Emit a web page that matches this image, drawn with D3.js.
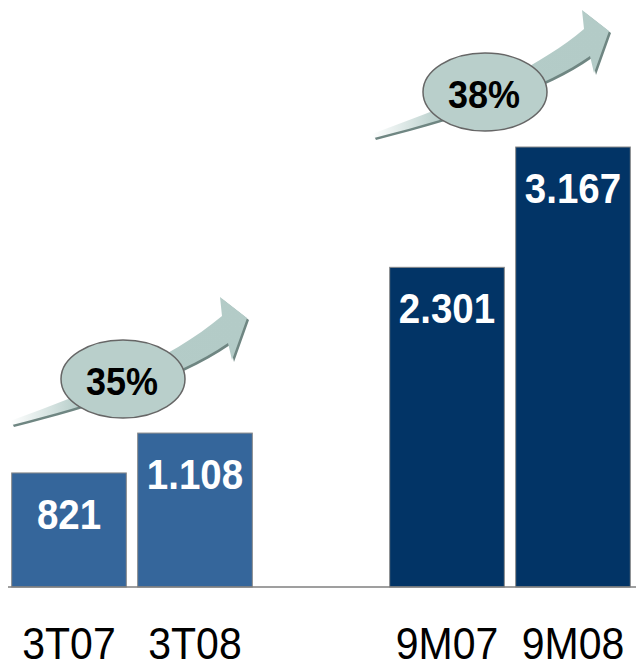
<!DOCTYPE html>
<html>
<head>
<meta charset="utf-8">
<style>
  body { margin: 0; background: #ffffff; }
  svg { display: block; }
</style>
</head>
<body>
<script src="https://d3js.org/d3.v7.min.js"></script>
<script>
// DATA
var categories = ["3T07", "3T08", "9M07", "9M08"];
var values = [821, 1108, 2301, 3167];
var valueLabels = ["821", "1.108", "2.301", "3.167"];
var growthLabels = ["35%", "38%"];

var width = 636, height = 669;
var baseY = 587;

var svg = d3.select("body").append("svg")
  .attr("width", width)
  .attr("height", height);

// x: 5 slots, the middle one left empty as a gap between the two groups
var slots = [categories[0], categories[1], "_gap", categories[2], categories[3]];
var x = d3.scaleBand().domain(slots).range([6, 636]).paddingInner(0.09).paddingOuter(0.045);
var y = d3.scaleLinear().domain([0, 3167]).range([baseY, 147]);

var barColor = ["#35669b", "#35669b", "#023466", "#023466"];

var bars = categories.map(function(c, i) {
  return { cat: c, value: values[i], label: valueLabels[i], color: barColor[i] };
});

// gradient for arrows
var defs = svg.append("defs");
var grad = defs.append("linearGradient").attr("id", "arrowGrad")
  .attr("x1", "0%").attr("x2", "100%").attr("y1", "0%").attr("y2", "0%");
grad.append("stop").attr("offset", "0%").attr("stop-color", "#ffffff");
grad.append("stop").attr("offset", "30%").attr("stop-color", "#b4ccc8");
grad.append("stop").attr("offset", "100%").attr("stop-color", "#b3cbc7");

// bars
svg.selectAll("rect.bar")
  .data(bars)
  .enter().append("rect")
  .attr("class", "bar")
  .attr("x", function(d) { return x(d.cat); })
  .attr("y", function(d) { return y(d.value); })
  .attr("width", x.bandwidth())
  .attr("height", function(d) { return baseY - y(d.value); })
  .style("fill", function(d) { return d.color; })
  .style("stroke", "#8a8a8a")
  .style("stroke-width", 1);

// baseline
svg.append("line")
  .attr("x1", 8).attr("x2", 636)
  .attr("y1", baseY).attr("y2", baseY)
  .style("stroke", "#7f7f7f")
  .style("stroke-width", 1.5);

// value labels inside bars
svg.selectAll("text.val")
  .data(bars)
  .enter().append("text")
  .attr("class", "val")
  .attr("transform", function(d) {
    return "translate(" + (x(d.cat) + x.bandwidth() / 2) + "," + (y(d.value) + 56) + ") scale(1,1.08)";
  })
  .attr("text-anchor", "middle")
  .attr("font-family", "Liberation Sans, Arial, sans-serif")
  .attr("font-weight", "bold")
  .attr("font-size", 38.5)
  .style("fill", "#ffffff")
  .text(function(d) { return d.label; });

// category labels
svg.selectAll("text.cat")
  .data(bars)
  .enter().append("text")
  .attr("class", "cat")
  .attr("transform", function(d) {
    return "translate(" + (x(d.cat) + x.bandwidth() / 2) + ",659) scale(1,1.08)";
  })
  .attr("text-anchor", "middle")
  .attr("font-family", "Liberation Sans, Arial, sans-serif")
  .attr("font-size", 41)
  .style("fill", "#000000")
  .text(function(d) { return d.cat; });

// growth arrows with ellipse badges
var arrowPath = "M10,421 C90,392 170,360 222,316 L220,297 L247,318 L232,360 L228,343 C175,380 90,405 12,425 Z";
var arrowPos = [[0, 0], [362, -287]];

arrowPos.forEach(function(p, i) {
  var g = svg.append("g").attr("transform", "translate(" + p[0] + "," + p[1] + ")");
  g.append("path").attr("d", arrowPath)
    .attr("transform", "translate(2,2)")
    .style("fill", "#6f8682");
  g.append("path").attr("d", arrowPath)
    .style("fill", "url(#arrowGrad)");
  g.append("ellipse")
    .attr("cx", 123).attr("cy", 379)
    .attr("rx", 62).attr("ry", 39)
    .style("fill", "#b9cfcb")
    .style("stroke", "#666666")
    .style("stroke-width", 1.5);
  g.append("text")
    .attr("transform", "translate(122,395) scale(1,1.1)")
    .attr("text-anchor", "middle")
    .attr("font-family", "Liberation Sans, Arial, sans-serif")
    .attr("font-weight", "bold")
    .attr("font-size", 36)
    .style("fill", "#000000")
    .text(growthLabels[i]);
});
</script>
</body>
</html>
